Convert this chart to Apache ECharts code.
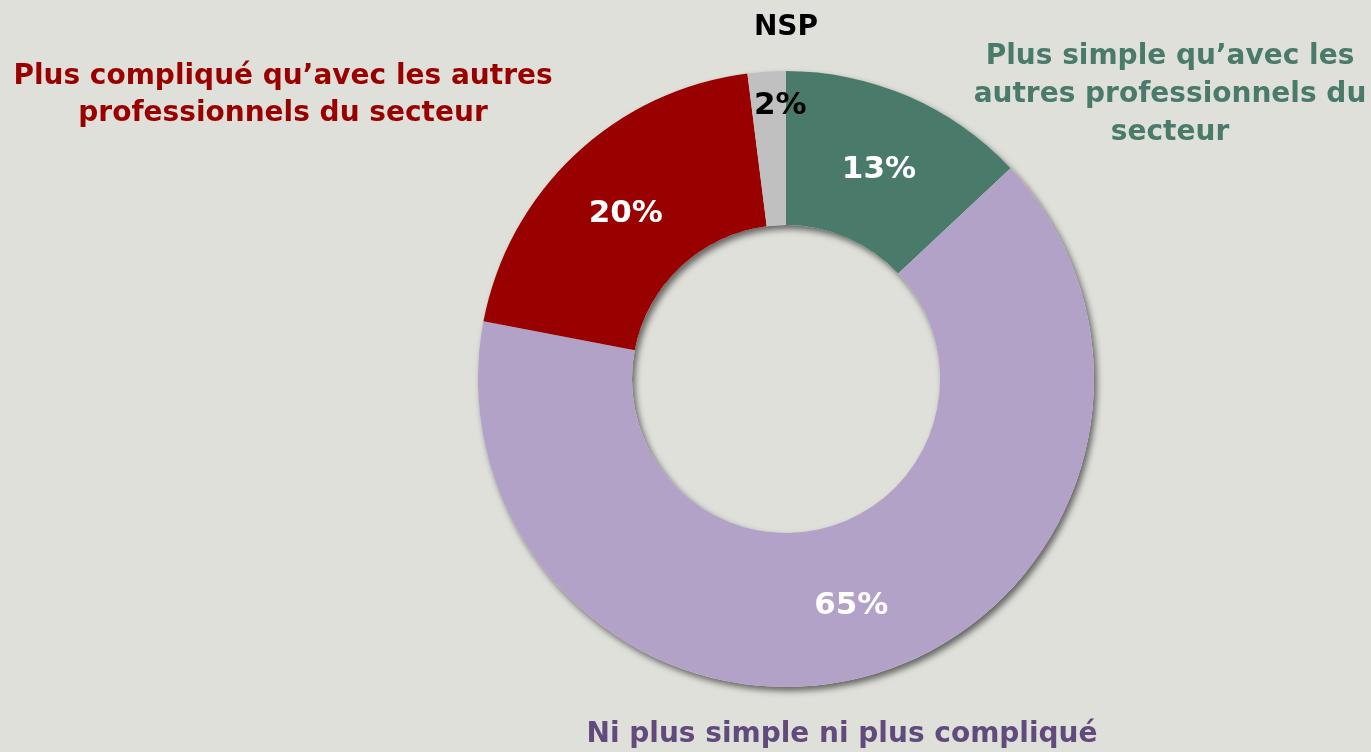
<!DOCTYPE html>
<html>
<head>
<meta charset="utf-8">
<script src="https://cdn.jsdelivr.net/npm/echarts@6/dist/echarts.min.js"></script>
<style>
  html, body { margin: 0; padding: 0; background: #e0e0db; }
  #chart { width: 1371px; height: 752px; }
</style>
</head>
<body>
<div id="chart"></div>
<script>
// reponses, dans l'ordre horaire depuis le haut
var categories = [
  "Plus simple qu'avec les autres professionnels du secteur",
  "Ni plus simple ni plus compliqué",
  "Plus compliqué qu'avec les autres professionnels du secteur",
  "NSP"
];
var values = [13, 65, 20, 2];
var colors = ["#4a7a69", "#b3a2c8", "#990000", "#c0c0c0"];
var labelColors = ["#ffffff", "#ffffff", "#ffffff", "#000000"];

var chart = echarts.init(document.getElementById("chart"));

var seriesData = values.map(function (v, i) {
  return {
    value: v,
    name: categories[i],
    itemStyle: { color: colors[i] },
    label: { color: labelColors[i] }
  };
});

var catFont = 'bold 28px "DejaVu Sans", Verdana, sans-serif';

var option = {
  backgroundColor: "#e0e0db",
  animation: false,
  series: [
    {
      // anneau d'ombre derriere
      type: "pie",
      silent: true,
      center: [786, 379],
      radius: [154, 308],
      label: { show: false },
      labelLine: { show: false },
      itemStyle: {
        color: "#e0e0db",
        shadowBlur: 6,
        shadowOffsetX: 3,
        shadowOffsetY: 4,
        shadowColor: "rgba(0,0,0,0.55)"
      },
      data: [{ value: 1, name: "ombre" }]
    },
    {
      name: "reponses",
      type: "pie",
      center: [786, 379],
      radius: [154, 308],
      startAngle: 90,
      clockwise: true,
      label: {
        show: true,
        position: "inside",
        formatter: "{c}%",
        fontFamily: '"DejaVu Sans", Verdana, sans-serif',
        fontWeight: "bold",
        fontSize: 31
      },
      labelLine: { show: false },
      labelLayout: function (params) {
        if (params.dataIndex === 3) {
          return { dx: 9, dy: -40 };
        }
        if (params.dataIndex === 1) {
          return { dy: 2 };
        }
        return { dy: 6 };
      },
      data: seriesData
    }
  ],
  graphic: [
    {
      type: "text",
      style: {
        x: 786, y: 28, text: "NSP", fill: "#000000",
        font: catFont, align: "center", verticalAlign: "middle"
      }
    },
    {
      type: "text",
      style: {
        x: 283, y: 95, text: "Plus compliqué qu’avec les autres\nprofessionnels du secteur",
        fill: "#990000", font: catFont, align: "center", verticalAlign: "middle",
        lineHeight: 37
      }
    },
    {
      type: "text",
      style: {
        x: 1170, y: 95, text: "Plus simple qu’avec les\nautres professionnels du\nsecteur",
        fill: "#4a7a69", font: catFont, align: "center", verticalAlign: "middle",
        lineHeight: 38
      }
    },
    {
      type: "text",
      style: {
        x: 842, y: 735, text: "Ni plus simple ni plus compliqué",
        fill: "#614b7d", font: catFont, align: "center", verticalAlign: "middle"
      }
    }
  ]
};

chart.setOption(option);
</script>
</body>
</html>
